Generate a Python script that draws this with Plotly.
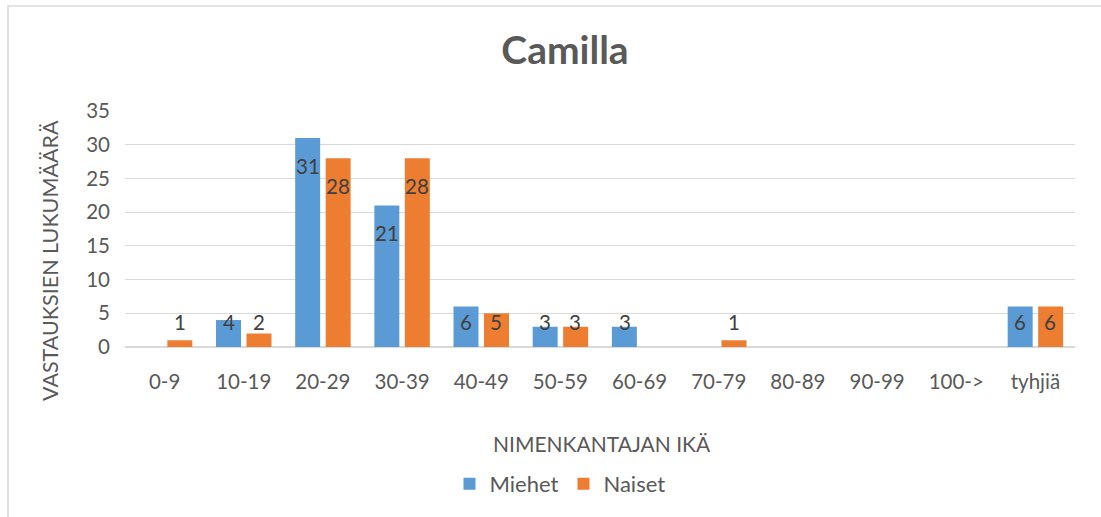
import plotly.graph_objects as go

categories = ["0-9", "10-19", "20-29", "30-39", "40-49", "50-59", "60-69",
              "70-79", "80-89", "90-99", "100->", "tyhjiä"]
miehet = [0, 4, 31, 21, 6, 3, 3, 0, 0, 0, 0, 6]
naiset = [1, 2, 28, 28, 5, 3, 0, 1, 0, 0, 0, 6]

FONT = "Lato"
TXT = "#595959"
LBL = dict(family=FONT, size=20.5, color="#404040")

W, H = 1101, 517
L, R, T, B = 125, 1075, 111, 347

fig = go.Figure()
series = [("Miehet", miehet, "#5B9BD5", -15), ("Naiset", naiset, "#ED7D31", 15)]
for name, vals, color, _ in series:
    fig.add_trace(go.Bar(
        name=name, x=categories, y=vals,
        marker=dict(color=color, line=dict(width=0)),
        hoverinfo="x+y+name",
    ))

# data labels (Excel "inside end" style, kept above the baseline for short bars)
for name, vals, color, xs in series:
    for cat, v in zip(categories, vals):
        if not v:
            continue
        if v >= 8:
            fig.add_annotation(x=cat, y=v, xref="x", yref="y", text=str(v), showarrow=False,
                               xshift=xs, yshift=-28, yanchor="middle", font=LBL)
        else:
            fig.add_annotation(x=cat, y=0, xref="x", yref="y", text=str(v), showarrow=False,
                               xshift=xs, yshift=25, yanchor="middle", font=LBL)

fig.update_layout(
    width=W, height=H,
    margin=dict(l=L, r=W - R, t=T, b=H - B),
    paper_bgcolor="white", plot_bgcolor="white",
    barmode="group", bargap=0.23, bargroupgap=0.18,
    font=dict(family=FONT, color=TXT),
    title=dict(text="<b>Camilla</b>", x=565 / W, xanchor="center", y=1 - 50 / H, yanchor="middle",
               font=dict(family=FONT, size=39, color=TXT)),
    legend=dict(orientation="h", x=(560 - L) / (R - L), xanchor="center",
                y=(B - 484) / (B - T), yanchor="middle",
                font=dict(family=FONT, size=22, color=TXT), itemwidth=30,
                traceorder="normal"),
    showlegend=True,
)
fig.update_yaxes(range=[0, 35], dtick=5, showgrid=True, gridcolor="#D9D9D9", gridwidth=1,
                 zeroline=True, zerolinecolor="#D9D9D9", showline=False,
                 tickfont=dict(family=FONT, size=20.5, color=TXT), ticklabelstandoff=14)
fig.update_xaxes(showline=True, linecolor="#D9D9D9", linewidth=1,
                 tickfont=dict(family=FONT, size=20.5, color=TXT), ticklabelstandoff=16)

fig.add_annotation(text="VASTAUKSIEN LUKUMÄÄRÄ", textangle=-90, xref="paper", yref="paper",
                   x=(50 - L) / (R - L), y=(B - 261) / (B - T), xanchor="center", yanchor="middle",
                   showarrow=False, font=dict(family=FONT, size=21.5, color=TXT))
fig.add_annotation(text="NIMENKANTAJAN IKÄ", xref="paper", yref="paper",
                   x=(602 - L) / (R - L), y=(B - 443) / (B - T), xanchor="center", yanchor="middle",
                   showarrow=False, font=dict(family=FONT, size=21, color=TXT))
fig.add_shape(type="rect", xref="paper", yref="paper",
              x0=(8 - L) / (R - L), x1=(1110 - L) / (R - L),
              y0=(B - 530) / (B - T), y1=(B - 6) / (B - T),
              line=dict(color="#D9D9D9", width=1.5), fillcolor="rgba(0,0,0,0)", layer="below")

fig.write_html("out.html", config={"displayModeBar": False},
               post_script="document.body.style.margin='0';")
